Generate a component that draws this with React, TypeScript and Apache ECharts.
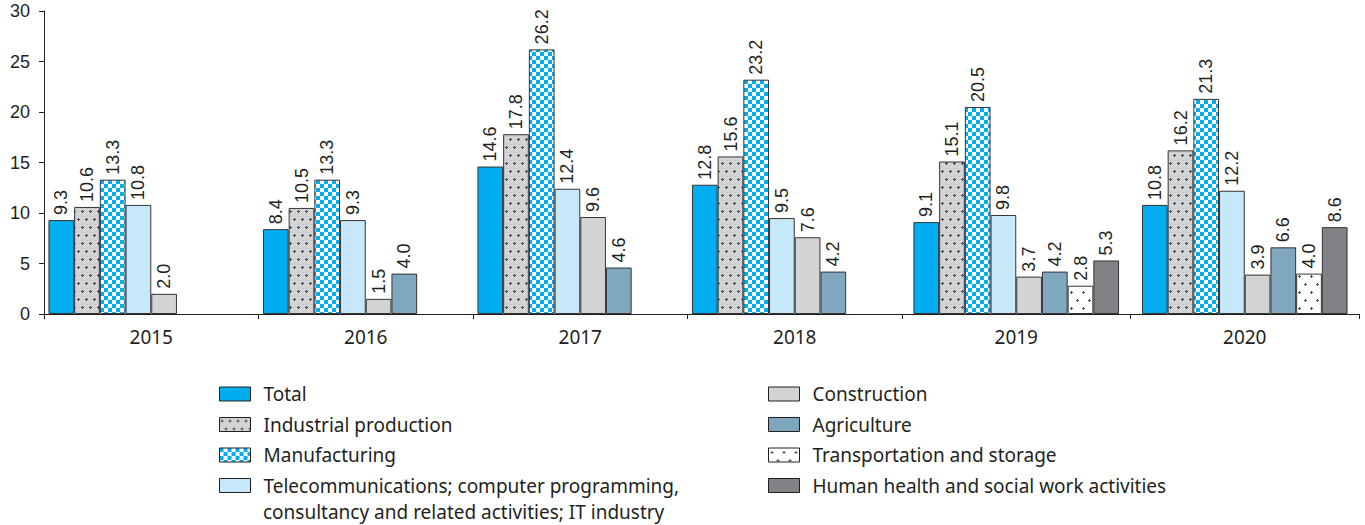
import React, { useEffect, useRef } from 'react';
import * as echarts from 'echarts';

const categories = ['2015', '2016', '2017', '2018', '2019', '2020'];
const seriesNames = [
  'Total',
  'Industrial production',
  'Manufacturing',
  'Telecommunications; computer programming, consultancy and related activities; IT industry',
  'Construction',
  'Agriculture',
  'Transportation and storage',
  'Human health and social work activities',
];
const totalValues = [9.3, 8.4, 14.6, 12.8, 9.1, 10.8];
const industrialValues = [10.6, 10.5, 17.8, 15.6, 15.1, 16.2];
const manufacturingValues = [13.3, 13.3, 26.2, 23.2, 20.5, 21.3];
const telecomValues = [10.8, 9.3, 12.4, 9.5, 9.8, 12.2];
const constructionValues = [2.0, 1.5, 9.6, 7.6, 3.7, 3.9];
const agricultureValues = [null, 4.0, 4.6, 4.2, 4.2, 6.6];
const transportValues = [null, null, null, null, 2.8, 4.0];
const healthValues = [null, null, null, null, 5.3, 8.6];
const yMin = 0;
const yMax = 30;
const yInterval = 5;

const allValues = [
  totalValues,
  industrialValues,
  manufacturingValues,
  telecomValues,
  constructionValues,
  agricultureValues,
  transportValues,
  healthValues,
];

const INK = '#231F20';
const NARROW = '"Liberation Sans Narrow", "Liberation Sans", Arial, sans-serif';
const SANS = '"Noto Sans", "Open Sans", sans-serif';

function makePattern(w: number, h: number, draw: (ctx: CanvasRenderingContext2D) => void) {
  const c = document.createElement('canvas');
  c.width = w;
  c.height = h;
  const ctx = c.getContext('2d') as CanvasRenderingContext2D;
  draw(ctx);
  return { image: c.toDataURL(), repeat: 'repeat', imageWidth: w, imageHeight: h } as any;
}

export default function App() {
  const ref = useRef<HTMLDivElement>(null);
  useEffect(() => {
    if (!ref.current) return;
    const chart = echarts.init(ref.current, undefined, { renderer: 'svg' });

    const checker = makePattern(8, 8, (ctx) => {
      ctx.fillStyle = '#ffffff';
      ctx.fillRect(0, 0, 8, 8);
      ctx.fillStyle = '#00AEEF';
      ctx.fillRect(0, 0, 4, 4);
      ctx.fillRect(4, 4, 4, 4);
    });
    const plus = (ctx: CanvasRenderingContext2D, x: number, y: number) => {
      ctx.fillRect(x, y - 1, 1, 3);
      ctx.fillRect(x - 1, y, 3, 1);
    };
    const dotted = makePattern(8, 16, (ctx) => {
      ctx.fillStyle = '#D1D3D4';
      ctx.fillRect(0, 0, 8, 16);
      ctx.fillStyle = '#4a4a4a';
      plus(ctx, 2, 3);
      plus(ctx, 6, 11);
    });
    const sparse = makePattern(12, 16, (ctx) => {
      ctx.fillStyle = '#ffffff';
      ctx.fillRect(0, 0, 12, 16);
      ctx.fillStyle = '#555555';
      plus(ctx, 3, 4);
      plus(ctx, 9, 12);
    });

    const fills: any[] = ['#00AEEF', dotted, checker, '#C7E8F8', '#D1D3D4', '#7FA7BD', sparse, '#808285'];

    const label = {
      show: true,
      position: 'top',
      rotate: 90,
      align: 'left',
      verticalAlign: 'middle',
      distance: 5,
      fontFamily: NARROW,
      fontSize: 18,
      color: INK,
      formatter: (p: any) => (p.value == null ? '' : Number(p.value).toFixed(1)),
    };

    const series: any[] = [];
    [0, 1].forEach((g) => {
      allValues.forEach((vals, i) => {
        series.push({
          type: 'bar',
          name: seriesNames[i],
          xAxisIndex: g,
          yAxisIndex: g,
          data: g === 0 ? vals.slice(0, 4) : vals.slice(4),
          barWidth: 25.7,
          barGap: '0%',
          itemStyle: { color: fills[i], borderColor: '#333333', borderWidth: 1 },
          label,
        });
      });
    });

    const xAxisCommon = {
      type: 'category',
      axisLine: { lineStyle: { color: INK, width: 1 } },
      axisTick: { show: true, length: 5, lineStyle: { color: INK } },
      axisLabel: { fontFamily: SANS, fontSize: 19, color: INK, margin: 13 },
    };
    const yAxisCommon = {
      type: 'value',
      min: yMin,
      max: yMax,
      interval: yInterval,
      splitLine: { show: false },
    };

    const legendCommon = {
      orient: 'vertical',
      itemWidth: 31,
      itemHeight: 14,
      itemGap: 8.5,
      padding: 0,
      top: 383,
      icon: 'rect',
      itemStyle: { borderColor: INK, borderWidth: 1 },
      textStyle: { fontFamily: SANS, fontSize: 19, color: INK, lineHeight: 22, padding: [0, 0, 0, 8] },
      selectedMode: false,
      formatter: (name: string) =>
        name.startsWith('Telecommunications') ? 'Telecommunications; computer programming,' : name,
    };

    chart.setOption({
      animation: false,
      backgroundColor: '#ffffff',
      grid: [
        { left: 44, top: 11, width: 858, height: 303 },
        { left: 902, top: 11, width: 457, height: 303 },
      ],
      xAxis: [
        { ...xAxisCommon, gridIndex: 0, data: categories.slice(0, 4) },
        { ...xAxisCommon, gridIndex: 1, data: categories.slice(4) },
      ],
      yAxis: [
        {
          ...yAxisCommon,
          gridIndex: 0,
          axisLine: { show: true, lineStyle: { color: INK, width: 1 } },
          axisTick: { show: true, length: 5, lineStyle: { color: INK } },
          axisLabel: { fontFamily: NARROW, fontSize: 18, color: INK, margin: 14 },
        },
        { ...yAxisCommon, gridIndex: 1, show: false },
      ],
      legend: [
        { ...legendCommon, left: 219, data: seriesNames.slice(0, 4) },
        { ...legendCommon, left: 768, data: seriesNames.slice(4) },
      ],
      graphic: [
        {
          type: 'text',
          left: 263,
          top: 502,
          style: {
            text: 'consultancy and related activities; IT industry',
            fontFamily: SANS,
            fontSize: 19,
            fill: INK,
          },
        },
      ],
      series,
    });
    return () => chart.dispose();
  }, []);
  return (
    <div
      ref={ref}
      style={{ position: 'absolute', left: 0, top: 0, width: 1365, height: 525, background: '#fff' }}
    />
  );
}
